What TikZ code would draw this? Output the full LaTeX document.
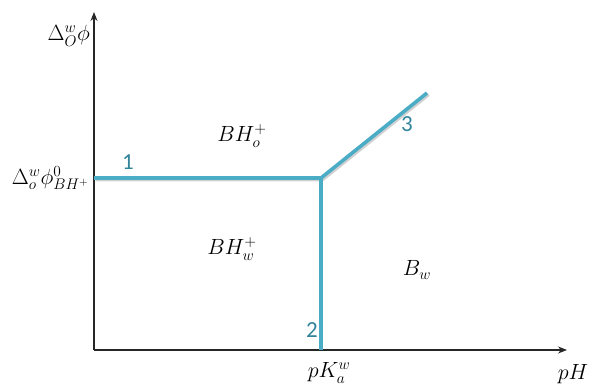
\documentclass[tikz,border=0pt]{standalone}
\usepackage{fontspec}
\usepackage{fix-cm}
\newfontfamily\numfont{Carlito}
\usetikzlibrary{arrows.meta}
\definecolor{teal1}{HTML}{4BACC6}
\definecolor{numc}{HTML}{31849B}
\begin{document}
\begin{tikzpicture}[x=1pt,y=-1pt,
  axis/.style={line width=1.2pt,draw=black!85,-{Stealth[length=9pt,width=7pt]}},
  bound/.style={line width=3.6pt,draw=teal1},
  shadow/.style={line width=3.6pt,draw=black!18},
  lbl/.style={font=\fontsize{22}{24}\selectfont,inner sep=0pt},
  num/.style={font=\numfont\fontsize{23}{25}\selectfont,text=numc,inner sep=0pt}]
\useasboundingbox (0,0) rectangle (590,385);
\coordinate (O) at (94,350);
\coordinate (Ytop) at (94,12);
\coordinate (Xend) at (567,350);
\coordinate (A) at (94,178);
\coordinate (T) at (321,178);
\coordinate (B) at (321,350);
\coordinate (C) at (427,93);
\draw[axis] (O) -- (Ytop);
\draw[axis] (O) -- (Xend);
\draw[shadow] ([shift={(1.5,1.5)}]A) -- ([shift={(1.5,1.5)}]T) -- ([shift={(1.5,1.5)}]C);
\draw[bound] (A) -- (T) -- (C);
\draw[bound] (T) -- (B);
\node[lbl,anchor=east] (ylab) at (90,36) {$\Delta_O^w\phi$};
\node[lbl,anchor=east] (yval) at (89,178) {$\Delta_o^w\phi^0_{BH^+}$};
\node[lbl] (bho) at (242,136) {$BH_o^+$};
\node[lbl] (bhw) at (232,249) {$BH_w^+$};
\node[lbl] (bw) at (417,270) {$B_w$};
\node[lbl] (pka) at (329,373) {$pK_a^w$};
\node[lbl] (ph) at (573,374) {$pH$};
\node[num] (n1) at (128,162) {1};
\node[num] (n2) at (312,330) {2};
\node[num] (n3) at (407,124) {3};
\end{tikzpicture}
\end{document}
